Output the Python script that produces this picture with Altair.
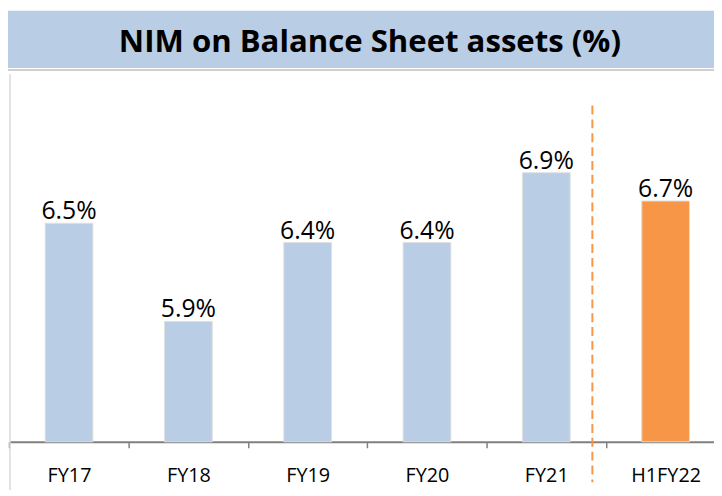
import altair as alt
import pandas as pd

# ---- data ----
categories = ["FY17", "FY18", "FY19", "FY20", "FY21", "H1FY22"]
values = [6.57, 5.91, 6.44, 6.44, 6.91, 6.72]          # bar heights as drawn
labels = ["6.5%", "5.9%", "6.4%", "6.4%", "6.9%", "6.7%"]
kinds = ["full", "full", "full", "full", "full", "half"]
title_text = "NIM on Balance Sheet assets (%)"
y_min, y_max = 5.1, 8.0

df = pd.DataFrame({"cat": categories, "value": values, "label": labels, "kind": kinds})

W, H = 714, 436
FONT = "Open Sans"

xscale = alt.Scale(domain=categories, range=[1.4, 725.4], paddingInner=0, paddingOuter=0)
yscale = alt.Scale(domain=[y_min, y_max], zero=False, nice=False)

base = alt.Chart(df)

x_enc = alt.X(
    "cat:N",
    scale=xscale,
    axis=alt.Axis(
        title=None, labelAngle=0, labelFont=FONT, labelFontSize=20, labelColor="#000000",
        domainColor="#808080", domainWidth=2, tickColor="#808080", tickWidth=1.5,
        tickSize=6, tickBand="extent", labelPadding=18, grid=False,
    ),
)
y_enc = alt.Y("value:Q", scale=yscale, axis=None)

bars = base.mark_bar(stroke="#e0e0e0", strokeWidth=1, width=alt.RelativeBandSize(0.4)).encode(
    x=x_enc,
    y=y_enc,
    y2=alt.datum(y_min),
    color=alt.Color("kind:N", scale=alt.Scale(domain=["full", "half"], range=["#B9CDE5", "#F79646"]), legend=None),
)

value_text = base.mark_text(font=FONT, fontSize=25, baseline="alphabetic", dy=-4, color="#000000").encode(
    x=alt.X("cat:N", scale=xscale),
    y=alt.Y("value:Q", scale=yscale),
    text="label:N",
)

deco = alt.Chart(pd.DataFrame({"t": [title_text]}))

title_box = deco.mark_rect(color="#B9CDE5").encode(
    x=alt.value(0), x2=alt.value(W), y=alt.value(0), y2=alt.value(58)
)
title_shadow = deco.mark_rule(color="#cfcfcf", strokeWidth=2).encode(
    x=alt.value(0), x2=alt.value(W), y=alt.value(60)
)
left_line = deco.mark_rule(color="#dadada", strokeWidth=1.5).encode(
    x=alt.value(2), y=alt.value(64), y2=alt.value(490)
)
divider = deco.mark_rule(color="#F79646", strokeDash=[9, 5], strokeWidth=2).encode(
    x=alt.value(591), y=alt.value(96), y2=alt.value(477)
)
title_label = deco.mark_text(font=FONT, fontSize=31.5, fontWeight="bold", align="center",
                             baseline="alphabetic", color="#000000").encode(
    x=alt.value(366), y=alt.value(42), text="t:N"
)

chart = alt.layer(
    title_box, title_shadow, left_line, bars, value_text, divider, title_label
).properties(
    width=W, height=H,
    autosize=alt.AutoSizeParams(type="none"),
    padding={"left": 0, "top": 0, "right": 0, "bottom": 46},
    background="white",
).configure_view(stroke=None)

chart.save("out.html", embed_options={"renderer": "svg", "actions": False})
